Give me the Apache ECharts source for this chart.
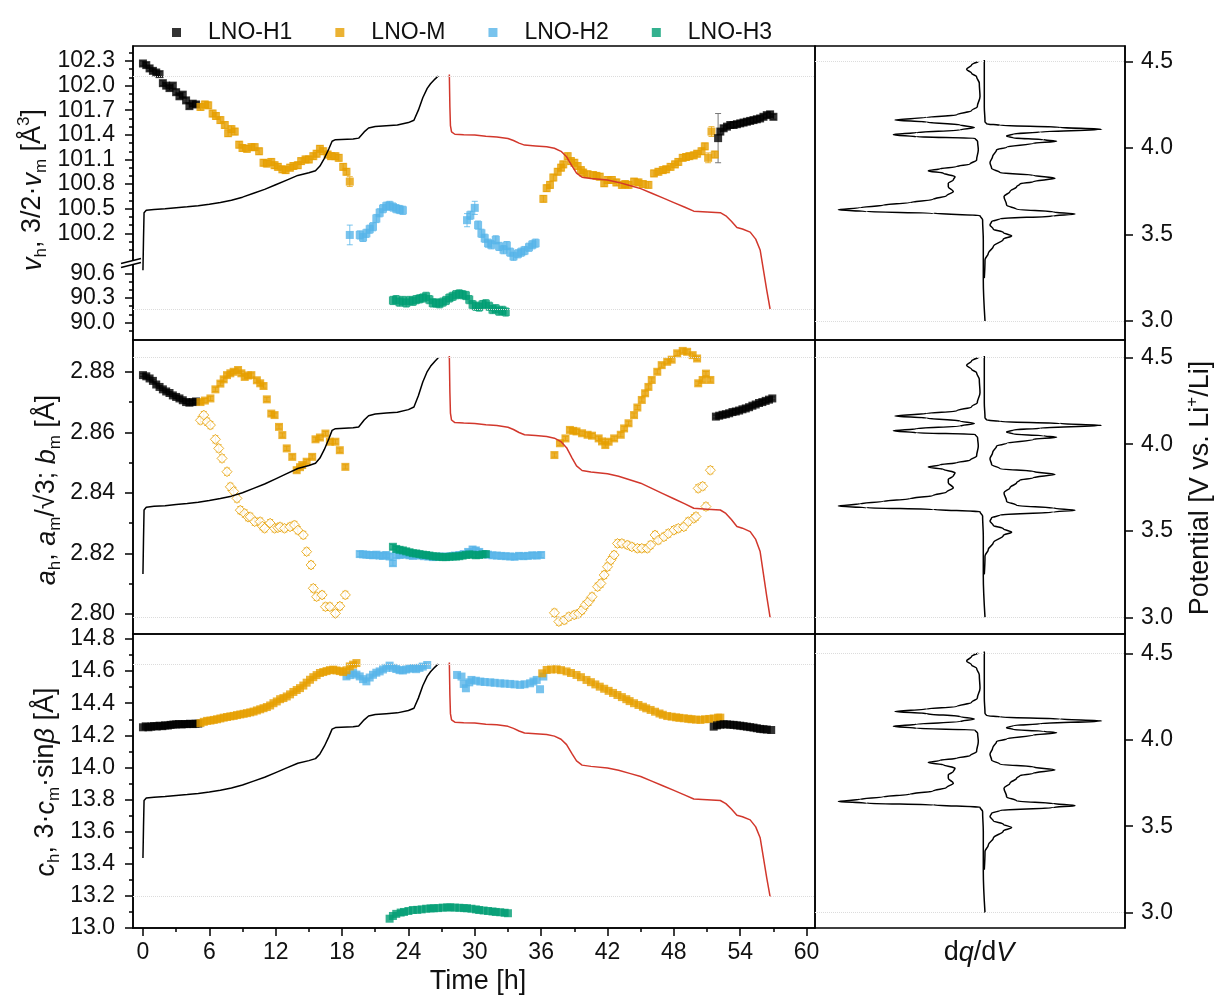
<!DOCTYPE html>
<html><head><meta charset="utf-8">
<script src="https://cdn.jsdelivr.net/npm/echarts@6/dist/echarts.min.js"></script>
<style>html,body{margin:0;padding:0;background:#fff}#c{width:1215px;height:999px}</style>
</head><body><div id="c"></div><script>
// ---------------- DATA ----------------
const TIME_TICKS = [0,6,12,18,24,30,36,42,48,54,60];
const TIME_MINOR = [3,9,15,21,27,33,39,45,51,57];
const VOL_TICKS_UP = [100.2,100.5,100.8,101.1,101.4,101.7,102.0,102.3];
const VOL_MINOR_UP = [100.0,100.1,100.3,100.4,100.6,100.7,100.9,101.0,101.2,101.3,101.5,101.6,101.8,101.9,102.1,102.2,102.4];
const VOL_TICKS_LOW = [90.0,90.3,90.6];
const VOL_MINOR_LOW = [89.9,90.1,90.2,90.4,90.5];
const A_TICKS = [2.80,2.82,2.84,2.86,2.88];
const A_MINOR = [2.81,2.83,2.85,2.87];
const C_TICKS = [13.0,13.2,13.4,13.6,13.8,14.0,14.2,14.4,14.6,14.8];
const C_MINOR = [13.1,13.3,13.5,13.7,13.9,14.1,14.3,14.5,14.7];
const POT_TICKS = [3.0,3.5,4.0,4.5];
const LEGEND_NAMES = ['LNO-H1','LNO-M','LNO-H2','LNO-H3'];

// Top row: unit-cell volume [t, v, err]
const volH1a = [[0,102.27],[0.3,102.25],[0.6,102.21],[0.9,102.18],[1.2,102.16],[1.5,102.14],[1.8,102.03],[2.1,102.0],[2.4,101.97],[2.7,102.0],[3.0,101.92],[3.3,101.87],[3.6,101.89],[3.9,101.82],[4.2,101.75],[4.5,101.78],[4.8,101.77]];
const volH1b = [[52.0,101.36,0.3],[52.2,101.44],[52.5,101.48],[52.8,101.5],[53.1,101.52],[53.4,101.52],[53.7,101.53],[54.0,101.54],[54.3,101.55],[54.6,101.56],[54.9,101.57],[55.2,101.58],[55.5,101.59],[55.8,101.6],[56.1,101.62],[56.4,101.64],[56.7,101.65],[57.0,101.62]];
const volMa = [[5.2,101.74],[5.6,101.77],[5.9,101.76],[6.3,101.66],[6.6,101.63],[7.0,101.58],[7.4,101.52],[7.7,101.42],[8.0,101.47],[8.3,101.44],[8.7,101.28],[9.0,101.24],[9.4,101.23],[9.8,101.25],[10.1,101.25],[10.5,101.2],[10.9,101.06],[11.2,101.05],[11.6,101.07],[11.9,101.03],[12.2,101.01],[12.6,100.98],[12.9,100.97],[13.3,101.0],[13.6,101.02],[14.0,101.03],[14.3,101.08],[14.7,101.1],[15.0,101.1],[15.4,101.14],[15.7,101.17],[16.0,101.23],[16.3,101.2],[16.7,101.16],[17.0,101.14],[17.4,101.14],[17.7,101.12],[18.1,101.01],[18.4,100.95],[18.7,100.83,0.06]];
const volMb = [[36.2,100.62],[36.5,100.75],[36.8,100.79],[37.1,100.88],[37.5,100.95],[37.8,101.0],[38.0,101.04],[38.4,101.14],[38.7,101.08],[39.0,101.06],[39.3,101.02],[39.6,100.97],[39.8,100.94],[40.2,100.92],[40.7,100.91],[41.0,100.9],[41.3,100.89],[41.7,100.81],[42.0,100.85],[42.4,100.85],[42.8,100.82],[43.3,100.79],[43.6,100.8],[43.9,100.79],[44.4,100.83],[44.8,100.82],[45.2,100.8],[45.7,100.79],[46.2,100.93],[46.6,100.95],[47.0,100.97],[47.3,100.98],[47.7,101.01],[48.1,101.04],[48.4,101.07],[48.8,101.12],[49.1,101.13],[49.4,101.14],[49.8,101.15],[50.1,101.17],[50.5,101.2],[50.8,101.26],[51.1,101.12,0.06],[51.4,101.44,0.06],[51.7,101.16]];
const volH2a = [[18.7,100.18,0.12],[19.6,100.18],[19.9,100.15],[20.2,100.2],[20.5,100.25],[20.8,100.28],[21.1,100.38],[21.4,100.45],[21.7,100.5],[22.0,100.53],[22.3,100.54],[22.6,100.52],[22.9,100.5],[23.2,100.49],[23.5,100.48]];
const volH2b = [[29.3,100.36,0.08],[29.6,100.42],[30.0,100.51,0.08],[30.3,100.3],[30.6,100.2],[30.9,100.14],[31.2,100.08],[31.5,100.06],[31.9,100.12],[32.2,100.04],[32.6,100.0],[32.9,100.05],[33.2,99.97],[33.5,99.92],[33.9,99.95],[34.2,99.97],[34.5,99.99],[34.9,100.03],[35.2,100.06],[35.5,100.08]];
const volH3 = [[22.6,90.27],[22.9,90.28],[23.2,90.25],[23.5,90.27],[23.8,90.24],[24.1,90.27],[24.4,90.26],[24.7,90.28],[25.0,90.29],[25.3,90.3],[25.6,90.32],[25.9,90.28],[26.2,90.24],[26.5,90.24],[26.8,90.23],[27.1,90.25],[27.4,90.27],[27.7,90.3],[28.0,90.32],[28.3,90.34],[28.6,90.35],[28.9,90.34],[29.2,90.33],[29.5,90.28],[29.8,90.22],[30.1,90.2],[30.4,90.19],[30.7,90.22],[31.0,90.23],[31.3,90.2],[31.6,90.16],[31.9,90.17],[32.2,90.14],[32.5,90.15],[32.8,90.13]];

// Middle row: a lattice parameter
const aH1a = [[0,2.8789],[0.3,2.8785],[0.6,2.8778],[0.9,2.877],[1.2,2.8758],[1.5,2.875],[1.8,2.8742],[2.1,2.8735],[2.4,2.873],[2.7,2.8722],[3.0,2.8717],[3.3,2.8712],[3.6,2.8706],[3.9,2.87],[4.2,2.8698],[4.5,2.87],[4.8,2.8702]];
const aH1b = [[51.8,2.8652],[52.1,2.8655],[52.4,2.8658],[52.7,2.866],[53.0,2.8663],[53.3,2.8667],[53.6,2.8669],[53.9,2.8672],[54.2,2.8676],[54.5,2.8679],[54.8,2.8683],[55.1,2.8688],[55.4,2.8692],[55.7,2.8697],[56.0,2.87],[56.3,2.8704],[56.6,2.8708],[56.9,2.8712]];
const aMfa = [[5.2,2.870],[5.6,2.8705],[6.1,2.8712],[6.55,2.8742],[7.0,2.8761],[7.3,2.8775],[7.6,2.8789],[7.9,2.8795],[8.2,2.880],[8.6,2.8806],[8.9,2.8795],[9.2,2.8783],[9.5,2.8788],[9.8,2.8789],[10.3,2.8772],[10.6,2.8762],[10.9,2.8753],[11.2,2.8709],[11.6,2.8662],[11.9,2.8657],[12.3,2.8618],[12.6,2.8591],[13.0,2.8547],[13.5,2.8519],[13.9,2.8475],[14.2,2.8485],[14.4,2.8492],[14.8,2.8503],[15.3,2.8519],[15.6,2.8577],[16.0,2.8583],[16.5,2.8596],[16.9,2.8569],[17.4,2.8569],[17.8,2.8541],[18.3,2.8486]];
const aMfb = [[37.2,2.8525],[37.7,2.8564],[38.2,2.858],[38.6,2.8608],[38.9,2.8605],[39.2,2.8603],[39.7,2.8597],[40.2,2.8592],[40.6,2.8589],[41.2,2.858],[41.5,2.857],[41.8,2.8558],[42.1,2.8569],[42.6,2.858],[43.2,2.8592],[43.5,2.8613],[43.9,2.863],[44.4,2.8657],[44.7,2.8682],[45.1,2.8707],[45.4,2.8729],[45.7,2.875],[46.0,2.8773],[46.5,2.88],[46.9,2.8822],[47.4,2.8833],[47.8,2.884],[48.3,2.8861],[48.8,2.8869],[49.2,2.8866],[49.7,2.8855],[50.1,2.8844],[50.2,2.8762],[50.6,2.8773],[50.9,2.8794],[51.3,2.8773]];
const aMda = [[5.2,2.864],[5.5,2.8657],[5.8,2.8635],[6.1,2.8624],[6.55,2.8577],[6.85,2.8547],[7.15,2.8514],[7.6,2.847],[7.9,2.842],[8.2,2.8405],[8.5,2.8382],[8.8,2.8343],[9.2,2.8332],[9.5,2.832],[9.7,2.8321],[10.1,2.8305],[10.6,2.8305],[10.8,2.829],[11.0,2.8283],[11.5,2.83],[11.9,2.8283],[12.2,2.8285],[12.4,2.8288],[12.8,2.8283],[13.3,2.8288],[13.7,2.8294],[14.0,2.8277],[14.5,2.8261],[14.8,2.8206],[15.2,2.8162],[15.4,2.8085],[15.7,2.8057],[16.2,2.8063],[16.5,2.8024],[16.9,2.8024],[17.4,2.8002],[17.8,2.8026],[18.3,2.8063]];
const aMdb = [[37.2,2.8004],[37.6,2.7975],[38.1,2.798],[38.5,2.7991],[39.0,2.7997],[39.4,2.8002],[39.7,2.8013],[40.0,2.803],[40.3,2.8041],[40.6,2.8057],[41.1,2.809],[41.4,2.8101],[41.7,2.8129],[42.0,2.8156],[42.3,2.8178],[42.6,2.8195],[42.9,2.8233],[43.3,2.8233],[43.8,2.8228],[44.2,2.8222],[44.7,2.8217],[45.1,2.8217],[45.6,2.8217],[45.9,2.8228],[46.3,2.8261],[46.6,2.8244],[47.1,2.8255],[47.5,2.8266],[48.0,2.8277],[48.4,2.8283],[48.9,2.8288],[49.3,2.8305],[49.8,2.8316],[50.0,2.8322],[50.2,2.8415],[50.6,2.8422],[50.9,2.8355],[51.3,2.8475]];
const aH2 = [[19.6,2.8198],[19.9,2.8197],[20.2,2.8196],[20.5,2.8195],[20.8,2.8194],[21.1,2.8196],[21.4,2.8193],[21.7,2.8192],[22.0,2.8195],[22.3,2.819],[22.6,2.8168],[22.9,2.8194],[23.2,2.8195],[23.5,2.8198],[23.8,2.8196],[24.1,2.8194],[24.4,2.8192],[24.7,2.8195],[25.0,2.8193],[25.4,2.8191],[25.8,2.819],[26.2,2.8188],[26.6,2.8189],[27.0,2.819],[27.4,2.8189],[27.8,2.8191],[28.2,2.8193],[28.6,2.8195],[29.0,2.8198],[29.4,2.8205],[29.8,2.8213],[30.1,2.821],[30.4,2.8205],[30.8,2.8198],[31.2,2.8196],[31.6,2.8194],[32.0,2.8193],[32.4,2.8192],[32.8,2.8191],[33.2,2.819],[33.6,2.8189],[34.0,2.8192],[34.4,2.8191],[34.8,2.8192],[35.2,2.8194],[35.6,2.8193],[36.0,2.8195]];
const aH3 = [[22.6,2.8222],[22.9,2.8215],[23.2,2.8212],[23.5,2.821],[23.8,2.8207],[24.1,2.8204],[24.4,2.8201],[24.7,2.82],[25.0,2.8198],[25.3,2.8196],[25.6,2.8195],[25.9,2.8193],[26.2,2.8191],[26.5,2.819],[26.8,2.8189],[27.1,2.8188],[27.4,2.8188],[27.7,2.8189],[28.0,2.819],[28.3,2.819],[28.6,2.8191],[28.9,2.8193],[29.2,2.8195],[29.5,2.8197],[29.8,2.8196],[30.1,2.8194],[30.4,2.8195],[30.7,2.8197],[31.0,2.8198]];

// Bottom row: c lattice parameter
const cH1a = [[0,14.25],[0.25,14.256],[0.5,14.25],[0.75,14.254],[1.0,14.258],[1.25,14.255],[1.5,14.26],[1.75,14.257],[2.0,14.262],[2.25,14.261],[2.5,14.265],[2.75,14.267],[3.0,14.268],[3.25,14.27],[3.5,14.268],[3.75,14.27],[4.0,14.27],[4.25,14.272],[4.5,14.27],[4.75,14.272],[5.0,14.273]];
const cH1b = [[51.6,14.254],[51.9,14.262],[52.2,14.266],[52.5,14.269],[52.8,14.268],[53.1,14.266],[53.4,14.265],[53.7,14.262],[54.0,14.26],[54.3,14.257],[54.6,14.254],[54.9,14.251],[55.2,14.248],[55.5,14.244],[55.8,14.24],[56.1,14.238],[56.4,14.236],[56.8,14.233]];
const cMa = [[5.2,14.276],[5.5,14.284],[5.8,14.29],[6.1,14.292],[6.4,14.296],[6.7,14.3],[7.0,14.305],[7.3,14.31],[7.6,14.314],[7.9,14.318],[8.2,14.321],[8.5,14.326],[8.8,14.33],[9.1,14.334],[9.4,14.338],[9.7,14.343],[10.0,14.348],[10.3,14.355],[10.6,14.362],[10.9,14.369],[11.2,14.376],[11.5,14.386],[11.8,14.4],[12.1,14.411],[12.4,14.425],[12.7,14.432],[13.0,14.442],[13.3,14.455],[13.6,14.47],[13.9,14.482],[14.2,14.494],[14.5,14.51],[14.8,14.528],[15.1,14.546],[15.4,14.562],[15.7,14.575],[16.0,14.588],[16.3,14.594],[16.6,14.6],[16.9,14.606],[17.2,14.609],[17.5,14.604],[17.8,14.6],[18.1,14.594],[18.4,14.605],[18.7,14.629],[19.0,14.64],[19.3,14.65]];
const cMb = [[36.1,14.586],[36.5,14.607],[36.9,14.61],[37.4,14.611],[37.8,14.606],[38.3,14.598],[38.7,14.588],[39.2,14.576],[39.6,14.562],[40.1,14.545],[40.5,14.531],[40.9,14.517],[41.3,14.503],[41.7,14.49],[42.1,14.477],[42.5,14.464],[42.9,14.451],[43.3,14.438],[43.7,14.425],[44.0,14.413],[44.4,14.4],[44.8,14.389],[45.2,14.378],[45.5,14.368],[45.9,14.358],[46.3,14.347],[46.7,14.336],[47.0,14.328],[47.4,14.32],[47.8,14.316],[48.2,14.312],[48.5,14.309],[48.9,14.306],[49.3,14.303],[49.6,14.3],[50.0,14.298],[50.4,14.296],[50.8,14.3],[51.2,14.302],[51.6,14.305],[52.0,14.31],[52.2,14.31]];
const cH2a = [[18.4,14.567],[18.7,14.575],[19.0,14.588],[19.3,14.578],[19.6,14.567],[19.9,14.55],[20.2,14.536],[20.5,14.56],[20.8,14.577],[21.1,14.59],[21.4,14.598],[21.7,14.61],[22.0,14.62],[22.3,14.634],[22.6,14.62],[22.9,14.613],[23.2,14.606],[23.5,14.604],[23.8,14.61],[24.1,14.615],[24.4,14.619],[24.7,14.612],[25.0,14.62],[25.3,14.628],[25.7,14.638]];
const cH2b = [[28.4,14.576],[28.8,14.566],[29.0,14.52],[29.2,14.493],[29.5,14.53],[29.7,14.545],[30.1,14.54],[30.5,14.535],[30.9,14.532],[31.4,14.53],[31.8,14.527],[32.3,14.524],[32.7,14.522],[33.2,14.52],[33.6,14.517],[34.1,14.514],[34.5,14.518],[35.0,14.524],[35.3,14.535],[35.6,14.545],[35.9,14.487],[36.2,14.566]];
const cH3 = [[22.3,13.058],[22.6,13.075],[22.9,13.088],[23.3,13.096],[23.6,13.1],[24.0,13.106],[24.4,13.112],[24.8,13.113],[25.2,13.116],[25.6,13.12],[26.0,13.122],[26.3,13.123],[26.7,13.124],[27.1,13.127],[27.5,13.128],[27.8,13.129],[28.2,13.127],[28.6,13.126],[29.0,13.124],[29.3,13.123],[29.7,13.12],[30.1,13.116],[30.4,13.112],[30.8,13.109],[31.2,13.106],[31.6,13.103],[31.9,13.1],[32.3,13.098],[32.7,13.095],[33.0,13.092]];

// Potential vs time [t, V]
const vCharge = [[0,3.25],[0.05,3.45],[0.1,3.62],[0.3,3.636],[1,3.641],[2,3.645],[3,3.652],[4,3.658],[5,3.665],[6,3.675],[7,3.686],[8,3.7],[9,3.72],[10,3.745],[11,3.77],[12,3.8],[13,3.83],[14,3.86],[15,3.877],[15.6,3.89],[16.0,3.92],[16.4,3.97],[16.8,4.03],[17.1,4.08],[17.4,4.09],[19.0,4.095],[19.5,4.1],[20.0,4.14],[20.4,4.165],[21,4.175],[22,4.18],[23,4.185],[24,4.2],[24.5,4.215],[24.9,4.28],[25.3,4.36],[25.7,4.42],[26.0,4.45],[26.4,4.48],[26.7,4.5]];
const vDischarge = [[27.7,4.51],[27.75,4.3],[27.8,4.18],[27.9,4.14],[28.2,4.125],[29,4.122],[30,4.12],[31,4.112],[32,4.108],[33,4.098],[33.5,4.085],[34,4.068],[34.5,4.055],[35.5,4.05],[36.5,4.045],[37.2,4.035],[37.8,4.015],[38.3,3.98],[38.8,3.92],[39.2,3.875],[39.7,3.848],[40.5,3.84],[42,3.83],[43,3.815],[44,3.795],[45,3.775],[46,3.745],[47,3.715],[48,3.685],[49,3.655],[49.8,3.63],[51,3.625],[52.2,3.62],[52.7,3.6],[53.2,3.565],[53.7,3.525],[54.2,3.515],[54.9,3.495],[55.4,3.45],[55.8,3.38],[56.1,3.25],[56.4,3.12],[56.7,3.0]];

// dq/dV [dq (a.u.), V]
const dqCharge = [[0,3.248],[0.007,3.354],[0.04,3.392],[0.09,3.431],[0.19,3.473],[0.273,3.492],[0.19,3.512],[0.09,3.531],[0.057,3.556],[0.073,3.575],[0.157,3.591],[0.69,3.608],[0.907,3.619],[0.69,3.631],[0.323,3.646],[0.223,3.671],[0.197,3.72],[0.257,3.749],[0.323,3.777],[0.357,3.793],[0.49,3.806],[0.707,3.826],[0.49,3.843],[0.157,3.858],[0.073,3.883],[0.057,3.916],[0.083,3.951],[0.123,3.99],[0.223,4.005],[0.49,4.028],[0.723,4.04],[0.59,4.049],[0.29,4.059],[0.223,4.07],[0.29,4.082],[0.557,4.093],[1.173,4.109],[0.757,4.12],[0.157,4.132],[0.023,4.14],[0.007,4.153],[0,4.24],[0,4.51]];
const dqDischarge = [[-0.06,4.5],[-0.127,4.481],[-0.177,4.456],[-0.127,4.433],[-0.077,4.413],[-0.05,4.375],[-0.043,4.298],[-0.07,4.24],[-0.127,4.217],[-0.277,4.192],[-0.577,4.178],[-0.893,4.163],[-0.577,4.151],[-0.243,4.134],[-0.1,4.12],[-0.243,4.105],[-0.677,4.09],[-0.91,4.078],[-0.677,4.066],[-0.093,4.057],[-0.067,4.038],[-0.06,3.99],[-0.077,3.932],[-0.143,3.908],[-0.277,3.893],[-0.443,3.881],[-0.56,3.868],[-0.41,3.855],[-0.293,3.835],[-0.31,3.816],[-0.36,3.797],[-0.36,3.777],[-0.31,3.749],[-0.377,3.724],[-0.51,3.704],[-0.743,3.685],[-1.01,3.67],[-1.243,3.656],[-1.46,3.643],[-1.177,3.633],[-0.51,3.623],[-0.043,3.61],[-0.017,3.585],[-0.01,3.469],[-0.01,3.238],[0.007,3.0]];

// ---------------- STYLE / LAYOUT ----------------
const FONT = '"Liberation Sans", Arial, Helvetica, sans-serif';
const TXT = '#111';
const C_BK = '#000000', C_OR = '#E69F00', C_BL = '#56B4E9', C_GR = '#009E73', C_RED = '#D2372C';
const AX = {color:'#000', width:1.5};
const FRAME = {show:true, borderColor:'#000', borderWidth:1.5, backgroundColor:'transparent'};
const gridBase = {containLabel:false, outerBoundsMode:'none'};
const grids = [
  Object.assign({left:133, top:46, width:682, height:217}, gridBase),          //0 top upper (volume)
  Object.assign({left:133, top:263, width:682, height:77}, gridBase),          //1 top lower (volume)
  Object.assign({left:133, top:46, width:682, height:294}, gridBase, FRAME),   //2 top frame + potential
  Object.assign({left:815, top:46, width:310, height:294}, gridBase, FRAME),   //3 top dq/dV
  Object.assign({left:133, top:340, width:682, height:294}, gridBase, FRAME),  //4 middle
  Object.assign({left:815, top:340, width:310, height:294}, gridBase, FRAME),  //5 middle dq/dV
  Object.assign({left:133, top:634, width:682, height:294}, gridBase, FRAME),  //6 bottom
  Object.assign({left:815, top:634, width:310, height:294}, gridBase, FRAME)   //7 bottom dq/dV
];
const T_MIN = -0.9, T_MAX = 60.76, DQ_MIN = -1.693, DQ_MAX = 1.407;
const labelStyle = {fontSize:23, fontFamily:FONT, color:TXT};

function timeX(gi, show){
  return {type:'value', gridIndex:gi, min:T_MIN, max:T_MAX, show:!!show, position:'bottom',
    axisLine:{show:true, onZero:false, lineStyle:AX},
    axisTick:{show:true, inside:false, length:8, customValues:TIME_TICKS, lineStyle:AX},
    axisLabel:Object.assign({show:true, customValues:TIME_TICKS, margin:13, formatter:v=>String(Math.round(v))}, labelStyle),
    splitLine:{show:false}};
}
function timeMinorX(gi){
  return {type:'value', gridIndex:gi, min:T_MIN, max:T_MAX, position:'bottom',
    axisLine:{show:false, onZero:false}, axisTick:{show:true, length:4, customValues:TIME_MINOR, lineStyle:AX},
    axisLabel:{show:false}, splitLine:{show:false}};
}
function dqX(gi){ return {type:'value', gridIndex:gi, min:DQ_MIN, max:DQ_MAX, show:false, splitLine:{show:false}}; }
function majorY(gi, min, max, ticks, dec, pos){
  return {type:'value', gridIndex:gi, min:min, max:max, position:pos||'left',
    axisLine:{show:true, onZero:false, lineStyle:AX},
    axisTick:{show:true, inside:false, length:8, customValues:ticks, lineStyle:AX},
    axisLabel:Object.assign({show:true, customValues:ticks, margin:(pos==='right'?16:18), formatter:v=>Number(v).toFixed(dec)}, labelStyle),
    splitLine:{show:false}};
}
function minorY(gi, min, max, ticks){
  return {type:'value', gridIndex:gi, min:min, max:max, position:'left',
    axisLine:{show:false, onZero:false}, axisTick:{show:true, length:4, customValues:ticks, lineStyle:AX},
    axisLabel:{show:false}, splitLine:{show:false}};
}
function hiddenY(gi, min, max){ return {type:'value', gridIndex:gi, min:min, max:max, show:false, position:'right', axisLine:{onZero:false}, splitLine:{show:false}}; }

const xAxes = [timeX(0), timeX(1), timeX(2), dqX(3), timeX(4), dqX(5), timeX(6, true), dqX(7), timeMinorX(6)];
const yAxes = [
  majorY(0, 99.838, 102.483, VOL_TICKS_UP, 1), minorY(0, 99.838, 102.483, VOL_MINOR_UP),   //0,1
  majorY(1, 89.79, 90.725, VOL_TICKS_LOW, 1), minorY(1, 89.79, 90.725, VOL_MINOR_LOW),     //2,3
  hiddenY(2, 2.8004, 4.6931),                                                               //4
  majorY(3, 2.89, 4.5908, POT_TICKS, 1, 'right'),                                           //5
  majorY(4, 2.7934, 2.8905, A_TICKS, 2), minorY(4, 2.7934, 2.8905, A_MINOR),                //6,7
  hiddenY(4, 2.9035, 4.6023),                                                               //8
  majorY(5, 2.9035, 4.6023, POT_TICKS, 1, 'right'),                                         //9
  majorY(6, 13.0, 14.831, C_TICKS, 1), minorY(6, 13.0, 14.831, C_MINOR),                    //10,11
  hiddenY(6, 2.798, 4.6934),                                                                //12
  majorY(7, 2.9115, 4.6116, POT_TICKS, 1, 'right')                                          //13
];

// ---------------- SERIES ----------------
const series = [];
function errRender(color){
  return function(params, api){
    const x = api.value(0), y = api.value(1), e = api.value(2);
    if (!e) return null;
    const p0 = api.coord([x, y - e]), p1 = api.coord([x, y + e]);
    const w = 3, st = {stroke:color, lineWidth:1};
    return {type:'group', children:[
      {type:'line', shape:{x1:p0[0], y1:p0[1], x2:p1[0], y2:p1[1]}, style:st},
      {type:'line', shape:{x1:p0[0]-w, y1:p0[1], x2:p0[0]+w, y2:p0[1]}, style:st},
      {type:'line', shape:{x1:p1[0]-w, y1:p1[1], x2:p1[0]+w, y2:p1[1]}, style:st}
    ]};
  };
}
function addPts(name, data, xi, yi, color, err, errColor, opts){
  opts = opts || {};
  if (err) {
    series.push({type:'custom', xAxisIndex:xi, yAxisIndex:yi, z:2, silent:true,
      renderItem:errRender(errColor || color), encode:{x:0, y:1},
      data:data.map(d => [d[0], d[1], d.length > 2 ? d[2] : err])});
  }
  series.push({type:'scatter', name:name, xAxisIndex:xi, yAxisIndex:yi, z:3,
    symbol:opts.symbol || 'rect', symbolSize:opts.size || 8,
    itemStyle:opts.hollow ? {color:'#fff', borderColor:color, borderWidth:1} : {color:color},
    data:data.map(d => [d[0], d[1]])});
}
const gridMark = {silent:true, symbol:'none', label:{show:false},
  lineStyle:{type:'dotted', color:'#dcdcdc', width:1}, data:[{yAxis:4.5},{yAxis:3.0}]};
function addPotential(xi, yi){
  series.push({type:'line', xAxisIndex:xi, yAxisIndex:yi, z:4, data:vCharge, showSymbol:false, symbol:'none',
    lineStyle:{color:C_BK, width:1.5}, markLine:gridMark});
  series.push({type:'line', xAxisIndex:xi, yAxisIndex:yi, z:4, data:vDischarge, showSymbol:false, symbol:'none',
    lineStyle:{color:C_RED, width:1.5}});
}
function addDq(xi, yi){
  const base = {type:'line', xAxisIndex:xi, yAxisIndex:yi, z:4, showSymbol:false, symbol:'none',
    smooth:0.35, smoothMonotone:'y', lineStyle:{color:C_BK, width:1.5}};
  series.push(Object.assign({data:dqCharge, markLine:gridMark}, base));
  series.push(Object.assign({data:dqDischarge}, base));
}

// Top row
addPts('LNO-H1', volH1a, 0, 0, C_BK, 0.03, '#777');
addPts('LNO-M', volMa, 0, 0, C_OR, 0.04, 'rgba(230,159,0,0.75)');
addPts('LNO-H2', volH2a, 0, 0, C_BL, 0.05, 'rgba(86,180,233,0.8)');
addPts('LNO-H2', volH2b, 0, 0, C_BL, 0.05, 'rgba(86,180,233,0.8)');
addPts('LNO-M', volMb, 0, 0, C_OR, 0.04, 'rgba(230,159,0,0.75)');
addPts('LNO-H1', volH1b, 0, 0, C_BK, 0.03, '#777');
addPts('LNO-H3', volH3, 1, 2, C_GR, 0.05, 'rgba(0,158,115,0.75)');
addPotential(2, 4);
addDq(3, 5);
// Middle row
addPts('LNO-H1', aH1a, 4, 6, C_BK, 0.0005, '#777');
addPts('LNO-H1', aH1b, 4, 6, C_BK, 0.0005, '#777');
addPts('LNO-M-a', aMda, 4, 6, C_OR, 0.0012, 'rgba(230,159,0,0.75)', {symbol:'diamond', size:10, hollow:true});
addPts('LNO-M-a', aMdb, 4, 6, C_OR, 0.0012, 'rgba(230,159,0,0.75)', {symbol:'diamond', size:10, hollow:true});
addPts('LNO-M', aMfa, 4, 6, C_OR, 0.0007, 'rgba(230,159,0,0.75)');
addPts('LNO-M', aMfb, 4, 6, C_OR, 0.0007, 'rgba(230,159,0,0.75)');
addPts('LNO-H2', aH2, 4, 6, C_BL, 0.0009, 'rgba(86,180,233,0.8)');
addPts('LNO-H3', aH3, 4, 6, C_GR, 0.0008, 'rgba(0,158,115,0.75)');
addPotential(4, 8);
addDq(5, 9);
// Bottom row
addPts('LNO-H1', cH1a, 6, 10, C_BK, 0);
addPts('LNO-H2', cH2a, 6, 10, C_BL, 0);
addPts('LNO-M', cMa, 6, 10, C_OR, 0);
addPts('LNO-H2', cH2b, 6, 10, C_BL, 0);
addPts('LNO-M', cMb, 6, 10, C_OR, 0);
addPts('LNO-H1', cH1b, 6, 10, C_BK, 0);
addPts('LNO-H3', cH3, 6, 10, C_GR, 0);
addPotential(6, 12);
addDq(7, 13);

// ---------------- TEXT / DECORATION ----------------
const T = 27;
const rich = {
  n:{fontSize:T, fontFamily:FONT, color:TXT, lineHeight:34},
  i:{fontSize:T, fontFamily:FONT, color:TXT, lineHeight:34, fontStyle:'italic'},
  s:{fontSize:17, fontFamily:FONT, color:TXT, verticalAlign:'bottom'},
  p:{fontSize:17, fontFamily:FONT, color:TXT, verticalAlign:'top'}
};
function vtext(x, y, text){
  return {type:'text', x:x, y:y, rotation:Math.PI/2, z:50,
    style:{text:text, rich:rich, align:'center', verticalAlign:'middle', font:T+'px '+FONT, fill:TXT}};
}
const graphic = [
  vtext(33, 190, '{i|v}{s|h}{n|, 3/2·}{i|v}{s|m}{n| [Å}{p|3}{n|]}'),
  vtext(47, 490, '{i|a}{s|h}{n|, }{i|a}{s|m}{n|/√3; }{i|b}{s|m}{n| [Å]}'),
  vtext(46, 782, '{i|c}{s|h}{n|, 3·}{i|c}{s|m}{n|·sin}{i|β}{n| [Å]}'),
  vtext(1201, 488, '{n|Potential [V vs. Li}{p|+}{n|/Li]}'),
  {type:'text', x:478, y:982, z:50, style:{text:'Time [h]', font:T+'px '+FONT, fill:TXT, align:'center', verticalAlign:'middle'}},
  {type:'text', x:979, y:953, z:50, style:{text:'{n|d}{i|q}{n|/d}{i|V}', rich:rich, font:T+'px '+FONT, fill:TXT, align:'center', verticalAlign:'middle'}},
  // axis break marks
  {type:'polygon', z:60, shape:{points:[[121,263.5],[141,258.5],[141,262.5],[121,267.5]]}, style:{fill:'#fff'}},
  {type:'line', z:61, shape:{x1:121, y1:263.5, x2:141, y2:258.5}, style:{stroke:'#000', lineWidth:1.5}},
  {type:'line', z:61, shape:{x1:121, y1:267.5, x2:141, y2:262.5}, style:{stroke:'#000', lineWidth:1.5}}
];

const option = {
  animation:false,
  backgroundColor:'#fff',
  textStyle:{fontFamily:FONT},
  legend:{show:true, left:167, top:16, selectedMode:false, itemWidth:9, itemHeight:9, itemGap:43,
    icon:'rect', data:LEGEND_NAMES.map(n => ({name:n, icon:'rect'})),
    textStyle:{fontSize:23, fontFamily:FONT, color:TXT, padding:[0,0,0,22]}},
  grid:grids, xAxis:xAxes, yAxis:yAxes, series:series, graphic:graphic
};
const chart = echarts.init(document.getElementById('c'));
chart.setOption(option);
</script></body></html>
